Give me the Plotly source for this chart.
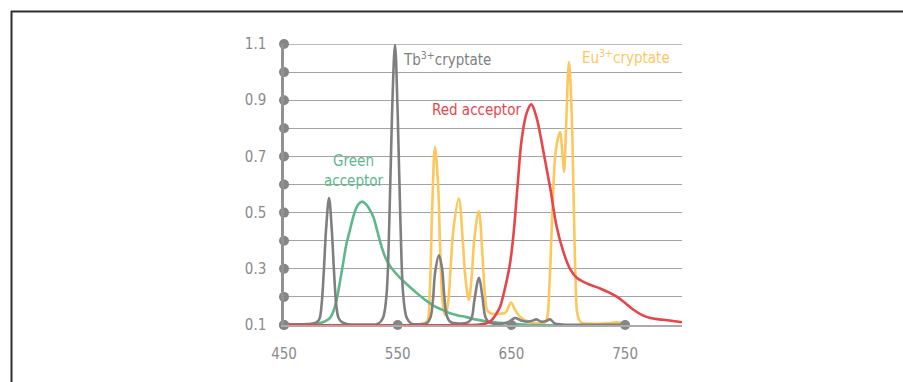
import plotly.graph_objects as go

# Emission spectra (wavelength in nm, normalised intensity)
tb_nm = [450, 470, 478, 481, 483, 485, 487, 489.6, 492, 494, 496, 498, 501, 506, 520,
         533, 537, 540, 542.5, 545, 547.6, 550, 552.5, 555, 558, 562, 570,
         576, 579, 581, 583, 586.3, 589, 591, 593, 596, 604,
         612, 615, 617.5, 621.5, 624.5, 627, 630, 640,
         648, 653, 658, 663, 668, 672, 676, 680, 684, 688, 695, 750]
tb_int = [0.103, 0.103, 0.108, 0.12, 0.17, 0.29, 0.44, 0.552, 0.44, 0.29, 0.17, 0.125, 0.11, 0.103, 0.102,
          0.105, 0.125, 0.2, 0.45, 0.85, 1.097, 0.85, 0.45, 0.2, 0.125, 0.105, 0.103,
          0.108, 0.13, 0.19, 0.29, 0.348, 0.3, 0.2, 0.135, 0.112, 0.105,
          0.11, 0.125, 0.19, 0.268, 0.2, 0.13, 0.11, 0.104,
          0.112, 0.125, 0.117, 0.112, 0.115, 0.12, 0.112, 0.113, 0.12, 0.106, 0.102, 0.102]

eu_nm = [450, 560, 572, 576, 578.2, 580.2, 582.8, 585.5, 587.5, 589.5, 591.6, 594, 596.5, 599,
         603.7, 607.2, 609.5, 612.5, 615, 617.5, 621.3, 624.5, 626.5, 629, 633, 640, 645,
         649.6, 653, 657.5, 663, 669, 678, 681, 683.5, 686, 689, 692.7, 695, 696.3, 698,
         700.6, 703, 704.5, 706.5, 708, 711, 720, 735, 742, 750]
eu_int = [0.1, 0.1, 0.103, 0.115, 0.22, 0.5, 0.733, 0.6, 0.35, 0.18, 0.135, 0.17, 0.3, 0.44,
          0.55, 0.4, 0.27, 0.19, 0.27, 0.41, 0.505, 0.35, 0.22, 0.15, 0.14, 0.14, 0.145,
          0.18, 0.155, 0.13, 0.115, 0.108, 0.105, 0.12, 0.25, 0.5, 0.72, 0.787, 0.7, 0.645, 0.8,
          1.036, 0.85, 0.59, 0.25, 0.14, 0.11, 0.105, 0.106, 0.11, 0.106]

green_nm = [450, 475, 481.7, 486, 490.5, 493.5, 496.3, 499.5, 502, 505, 508, 512, 515.5, 518.9,
            522, 525.5, 528.5, 532, 535, 538, 541, 545, 552, 558, 566.7, 574, 581, 587,
            596, 603, 610.7, 618, 625, 632, 640, 655, 670, 750]
green_int = [0.1, 0.1, 0.107, 0.113, 0.125, 0.15, 0.19, 0.26, 0.32, 0.39, 0.438, 0.5, 0.53, 0.539,
             0.53, 0.51, 0.485, 0.435, 0.39, 0.352, 0.325, 0.30, 0.268, 0.245, 0.214, 0.19, 0.17, 0.158,
             0.142, 0.134, 0.128, 0.12, 0.115, 0.111, 0.108, 0.103, 0.1, 0.1]

red_nm = [450, 610, 622, 628, 632, 636, 640, 644, 648.8, 652, 655.5, 659, 663.4, 667.5, 672,
          678, 684, 689.8, 695.7, 701.5, 707.7, 718, 728, 736, 743, 750, 757, 765, 772, 780,
          787, 800]
red_int = [0.1, 0.1, 0.102, 0.106, 0.115, 0.135, 0.165, 0.225, 0.32, 0.43, 0.6, 0.76, 0.855, 0.885, 0.84,
           0.72, 0.59, 0.45, 0.36, 0.30, 0.267, 0.245, 0.23, 0.215, 0.2, 0.178, 0.155, 0.135, 0.125, 0.12,
           0.117, 0.11]

y_labels = ["0.1", "0.3", "0.5", "0.7", "0.9", "1.1"]
y_label_vals = [0.1, 0.3, 0.5, 0.7, 0.9, 1.1]
y_grid = [0.1, 0.2, 0.3, 0.4, 0.5, 0.6, 0.7, 0.8, 0.9, 1.0, 1.1]
x_ticks = [450, 550, 650, 750]
x_labels = ["450", "550", "650", "750"]

GRAY = "#7f7f7f"
GREEN = "#5cb88a"
RED = "#e8454b"
YELLOW = "#fdc75c"
TICK = "#8a8a8a"
GRID = "#a3a3a3"
FONT = "Liberation Sans Narrow, DejaVu Sans Condensed, Roboto, sans-serif"

# plot area in pixels
W, H = 903, 382
L, R, T, B = 284, 682, 44, 325


def px_x(p):
    return (p - L) / (R - L)


def px_y(p):
    return (B - p) / (B - T)


fig = go.Figure()

line_kw = dict(mode="lines", line_shape="spline", hoverinfo="skip", showlegend=False,
               cliponaxis=False)
fig.add_trace(go.Scatter(x=eu_nm, y=eu_int, line=dict(color=YELLOW, width=2.6), **line_kw))
fig.add_trace(go.Scatter(x=green_nm, y=green_int, line=dict(color=GREEN, width=2.6), **line_kw))
fig.add_trace(go.Scatter(x=tb_nm, y=tb_int, line=dict(color=GRAY, width=2.6), **line_kw))
fig.add_trace(go.Scatter(x=red_nm, y=red_int, line=dict(color=RED, width=2.6), **line_kw))

# dot markers on the axes at each grid step
fig.add_trace(go.Scatter(x=[x_ticks[0]] * len(y_grid), y=y_grid, mode="markers",
                         marker=dict(color="#858585", size=10), cliponaxis=False,
                         hoverinfo="skip", showlegend=False))
fig.add_trace(go.Scatter(x=x_ticks, y=[y_grid[0]] * len(x_ticks), mode="markers",
                         marker=dict(color="#858585", size=10), cliponaxis=False,
                         hoverinfo="skip", showlegend=False))

labels = [
    dict(x=552.5, y=1.047, text="Tb<sup>3+</sup>cryptate", color=GRAY, xanchor="left"),
    dict(x=710, y=1.054, text="Eu<sup>3+</sup>cryptate", color=YELLOW, xanchor="left"),
    dict(x=660.5, y=0.865, text="Red acceptor", color=RED, xanchor="right"),
    dict(x=511.5, y=0.648, text="Green<br>acceptor", color=GREEN, xanchor="center"),
]
for a in labels:
    fig.add_annotation(x=a["x"], y=a["y"], text=a["text"], showarrow=False,
                       xanchor=a["xanchor"], yanchor="middle", align="center",
                       font=dict(family=FONT, size=15, color=a["color"]))

# top gridline sits on the range edge, so draw it explicitly
fig.add_shape(type="line", xref="x", yref="y", x0=450, x1=800, y0=y_grid[-1], y1=y_grid[-1],
              line=dict(color=GRID, width=1.4), layer="below")

# outer frame (top and left edges)
frame = dict(type="line", xref="paper", yref="paper", line=dict(color="#2e2e2e", width=2))
fig.add_shape(x0=px_x(11), x1=px_x(W + 5), y0=px_y(11.5), y1=px_y(11.5), **frame)
fig.add_shape(x0=px_x(11.5), x1=px_x(11.5), y0=px_y(11), y1=px_y(H + 5), **frame)

fig.update_layout(
    width=W, height=H,
    margin=dict(l=L, r=W - R, t=T, b=H - B),
    paper_bgcolor="white", plot_bgcolor="white",
    xaxis=dict(range=[450, 800], tickvals=x_ticks, ticktext=x_labels, showgrid=False,
               zeroline=False, showline=True, linecolor="#ababab", linewidth=2,
               ticks="", ticklabelstandoff=14,
               tickfont=dict(family=FONT, size=15, color=TICK)),
    yaxis=dict(range=[0.1, 1.1], tickvals=y_label_vals, ticktext=y_labels, showgrid=True,
               gridcolor=GRID, gridwidth=1.4, zeroline=False, showline=True,
               linecolor="#929292", linewidth=2.5, ticks="", ticklabelstandoff=12,
               tickfont=dict(family=FONT, size=15, color=TICK),
               minor=dict(tickvals=y_grid, showgrid=True, gridcolor=GRID, gridwidth=1.4,
                          ticks="")),
)

fig.write_html("out.html")
